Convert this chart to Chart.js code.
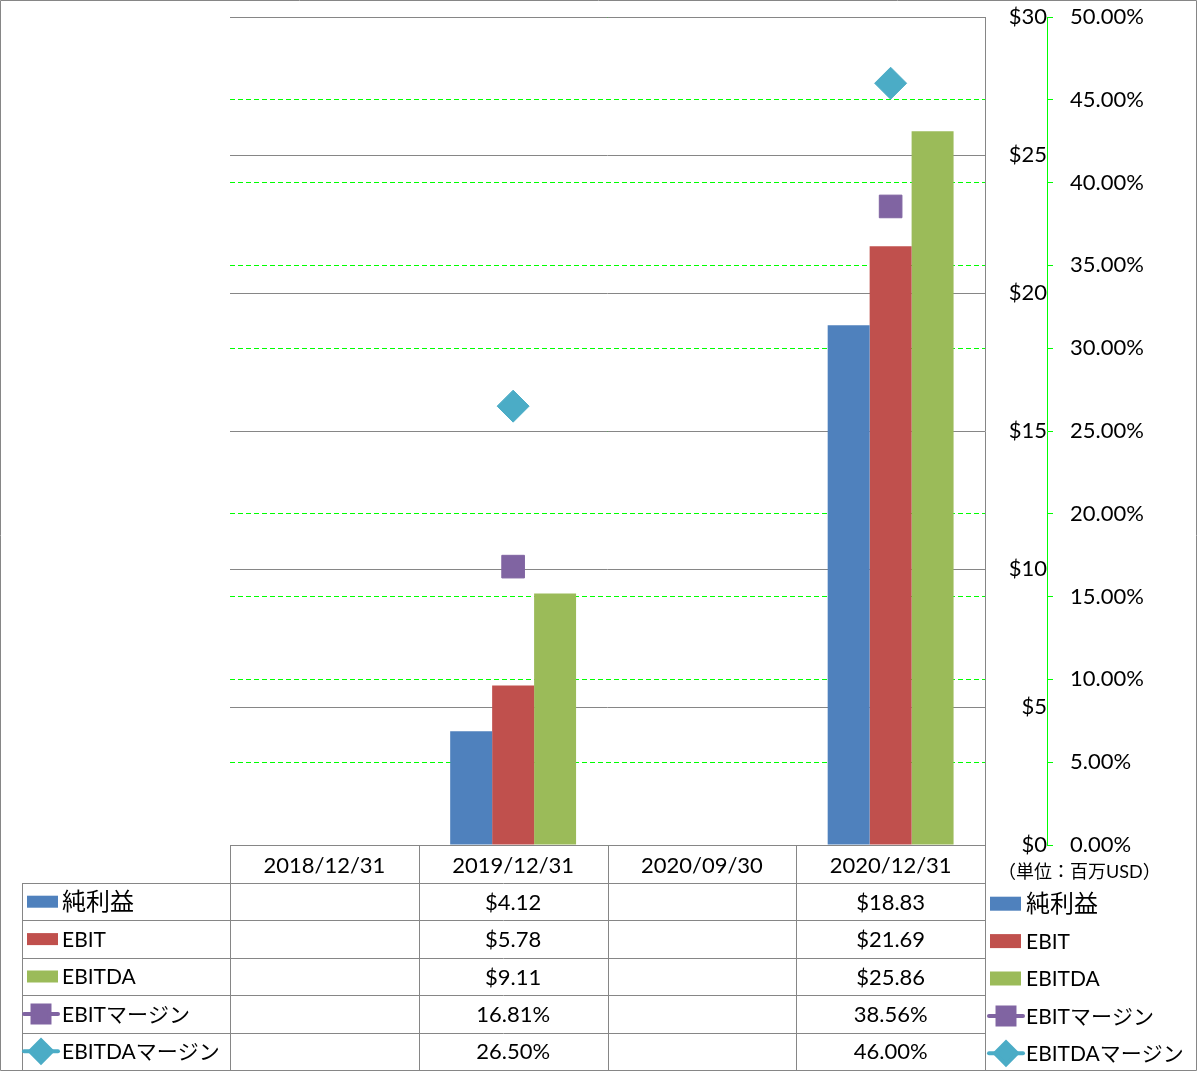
<!DOCTYPE html>
<html>
<head>
<meta charset="utf-8">
<script src="https://cdn.jsdelivr.net/npm/chart.js@4.4.1/dist/chart.umd.min.js"></script>
<style>
  html, body { margin: 0; padding: 0; background: #fff; }
  canvas { display: block; }
</style>
</head>
<body>
<canvas id="chart" width="1197" height="1071"></canvas>
<script>
// Data
const categories = ['2018/12/31', '2019/12/31', '2020/09/30', '2020/12/31'];
const netIncome = [null, 4.12, null, 18.83];
const ebit = [null, 5.78, null, 21.69];
const ebitda = [null, 9.11, null, 25.86];
const ebitMargin = [null, 16.81, null, 38.56];
const ebitdaMargin = [null, 26.50, null, 46.00];
const seriesNames = ['純利益', 'EBIT', 'EBITDA', 'EBITマージン', 'EBITDAマージン'];
const unitLabel = '（単位：百万USD）';

const FONT = "Lato, 'Noto Sans CJK JP', sans-serif";
const GRAY = '#868686';
const GREEN = '#00ff00';

Chart.defaults.font.family = FONT;
Chart.defaults.font.size = 22;
Chart.defaults.color = '#000';

function money(v) { return '$' + v.toFixed(2); }
function pct(v) { return v.toFixed(2) + '%'; }

// Legend swatch (used in the data table and on the right)
function drawSwatch(ctx, ds, x, y, big) {
    if (ds.type === 'bar') {
        ctx.fillStyle = ds.backgroundColor;
        ctx.fillRect(x, y - (big ? 7 : 6), 31, big ? 14 : 12);
        return;
    }
    ctx.strokeStyle = ds.borderColor;
    ctx.lineWidth = 4;
    ctx.lineCap = 'round';
    ctx.beginPath();
    ctx.moveTo(x, y);
    ctx.lineTo(x + 34, y);
    ctx.stroke();
    ctx.fillStyle = ds.pointBackgroundColor;
    ctx.strokeStyle = ds.pointBackgroundColor;
    Chart.helpers.drawPoint(ctx, {
        pointStyle: ds.pointStyle,
        radius: ds.pointStyle === 'rectRot' ? 11 : 12,
        rotation: 0,
        borderWidth: 1
    }, x + 17, y);
}

// Solid gray $ gridlines, drawn from the $ scale ticks, under the bars
const dollarGrid = {
    id: 'dollarGrid',
    beforeDatasetsDraw(chart) {
        const ctx = chart.ctx;
        const area = chart.chartArea;
        const ys = chart.scales.y;
        ctx.save();
        ctx.strokeStyle = GRAY;
        ctx.lineWidth = 1;
        ctx.beginPath();
        ys.ticks.forEach(t => {
            const y = Math.round(ys.getPixelForValue(t.value)) + 0.5;
            ctx.moveTo(area.left, y);
            ctx.lineTo(area.right, y);
        });
        ctx.stroke();
        ctx.restore();
    }
};

// Data table under the chart + legend on the right
const tablePlugin = {
    id: 'dataTable',
    afterDraw(chart) {
        const ctx = chart.ctx;
        const area = chart.chartArea;
        const colW = (area.right - area.left) / categories.length;
        const headTop = area.bottom;
        const bodyTop = chart.scales.x.bottom;
        const rowH = (chart.height - 1 - bodyTop) / seriesNames.length;
        const dsets = chart.data.datasets;

        ctx.save();
        ctx.strokeStyle = GRAY;
        ctx.lineWidth = 1;
        ctx.beginPath();
        // outer frame
        ctx.rect(0.5, 0.5, chart.width - 1, chart.height - 1);
        // header top
        ctx.moveTo(area.left, Math.round(headTop) + 0.5);
        ctx.lineTo(area.right, Math.round(headTop) + 0.5);
        // body rows
        for (let r = 0; r <= seriesNames.length; r++) {
            const y = Math.round(bodyTop + r * rowH) + 0.5;
            ctx.moveTo(22, y);
            ctx.lineTo(area.right, y);
        }
        ctx.moveTo(22.5, bodyTop);
        ctx.lineTo(22.5, chart.height);
        for (let c = 0; c <= categories.length; c++) {
            const x = Math.round(area.left + c * colW) + 0.5;
            ctx.moveTo(x, headTop);
            ctx.lineTo(x, chart.height);
        }
        ctx.stroke();

        ctx.textBaseline = 'middle';
        dsets.forEach((ds, i) => {
            const cy = bodyTop + rowH * i + rowH / 2;
            // values
            ctx.fillStyle = '#000';
            ctx.font = '22px ' + FONT;
            ctx.textAlign = 'center';
            ds.data.forEach((v, j) => {
                if (v === null) return;
                const fmt = ds.type === 'bar' ? money : pct;
                ctx.fillText(fmt(v), chart.scales.x.getPixelForValue(j), cy + 1);
            });
            // row label
            drawSwatch(ctx, ds, ds.type === 'bar' ? 27 : 24, cy, false);
            ctx.fillStyle = '#000';
            ctx.textAlign = 'left';
            ctx.font = (i === 0 ? '24px ' : '21px ') + FONT;
            ctx.fillText(ds.label, 62, cy + 1);
            // right legend
            const ly = cy + 2;
            drawSwatch(ctx, ds, ds.type === 'bar' ? 990 : 989, ly, true);
            ctx.fillStyle = '#000';
            ctx.font = (i === 0 ? '24px ' : '21px ') + FONT;
            ctx.fillText(ds.label, 1026, ly + 1);
        });

        ctx.font = '18px ' + FONT;
        ctx.textAlign = 'left';
        ctx.fillText(unitLabel, 998, headTop + 27);
        ctx.restore();
    }
};

function noPad(s) {
    s.paddingTop = 0;
    s.paddingBottom = 0;
}

const barBase = { type: 'bar', yAxisID: 'y', order: 1, categoryPercentage: 0.667, barPercentage: 1.0 };
const lineBase = { type: 'line', yAxisID: 'y1', order: 0, spanGaps: false, borderWidth: 4, pointBorderWidth: 1 };

new Chart(document.getElementById('chart'), {
    data: {
        labels: categories,
        datasets: [
            Object.assign({}, barBase, { label: seriesNames[0], data: netIncome, backgroundColor: '#4f81bd' }),
            Object.assign({}, barBase, { label: seriesNames[1], data: ebit, backgroundColor: '#c0504d' }),
            Object.assign({}, barBase, { label: seriesNames[2], data: ebitda, backgroundColor: '#9bbb59' }),
            Object.assign({}, lineBase, {
                label: seriesNames[3], data: ebitMargin,
                borderColor: '#8064a2', pointBackgroundColor: '#8064a2', pointBorderColor: '#8064a2',
                pointStyle: 'rect', pointRadius: 16
            }),
            Object.assign({}, lineBase, {
                label: seriesNames[4], data: ebitdaMargin,
                borderColor: '#4bacc6', pointBackgroundColor: '#4bacc6', pointBorderColor: '#4bacc6',
                pointStyle: 'rectRot', pointRadius: 16
            })
        ]
    },
    options: {
        responsive: false,
        animation: false,
        layout: { padding: { left: 230, top: 13, right: 0, bottom: 188 } },
        plugins: {
            legend: { display: false },
            tooltip: { enabled: false }
        },
        scales: {
            x: {
                position: 'bottom',
                grid: { display: false },
                border: { display: false },
                ticks: { padding: 0, maxRotation: 0 },
                afterFit: (s) => { s.height = 38; s.paddingLeft = 0; s.paddingRight = 0; }
            },
            y: {
                position: 'right',
                min: 0, max: 30,
                grid: { drawOnChartArea: false, drawTicks: false },
                border: { color: GRAY },
                ticks: { stepSize: 5, crossAlign: 'far', padding: 3, callback: (v) => '$' + v },
                afterFit: (s) => { s.width = 62; noPad(s); }
            },
            y1: {
                position: 'right',
                min: 0, max: 50,
                grid: {
                    color: GREEN, tickColor: GREEN, tickLength: 8,
                    tickBorderDash: [5, 3]
                },
                border: { color: GREEN, dash: [5, 3] },
                ticks: { stepSize: 5, padding: 15, callback: (v) => v.toFixed(2) + '%' },
                afterFit: (s) => { s.width = 150; noPad(s); }
            }
        }
    },
    plugins: [dollarGrid, tablePlugin]
});
</script>
</body>
</html>
